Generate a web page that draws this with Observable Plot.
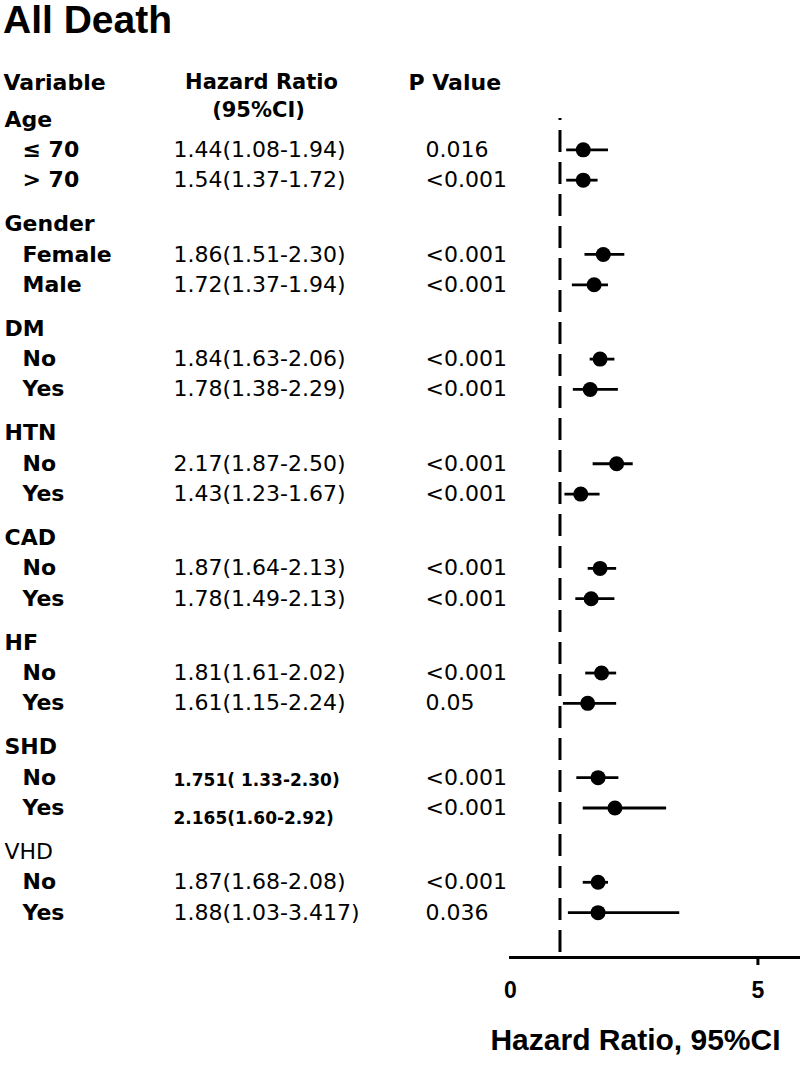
<!DOCTYPE html>
<html><head><meta charset="utf-8">
<script src="https://cdn.jsdelivr.net/npm/d3@7"></script>
<script src="https://cdn.jsdelivr.net/npm/@observablehq/plot@0.6"></script>
<style>
body{margin:0;background:#fff;}
#title{height:45px;font:bold 39px "Liberation Sans",Arial,sans-serif;line-height:39px;padding-left:3px;color:#000;}
#chart svg{overflow:visible;}
</style></head><body>
<div id="title">All Death</div>
<div id="chart"></div>
<script>
// ---- data ----
const groupLabels = ["Age","Gender","DM","HTN","CAD","HF","SHD","VHD"];
const subgroupLabels = [["≤ 70","> 70"],["Female","Male"],["No","Yes"],["No","Yes"],["No","Yes"],["No","Yes"],["No","Yes"],["No","Yes"]];
const hrText = ["1.44(1.08-1.94)","1.54(1.37-1.72)","1.86(1.51-2.30)","1.72(1.37-1.94)","1.84(1.63-2.06)","1.78(1.38-2.29)","2.17(1.87-2.50)","1.43(1.23-1.67)","1.87(1.64-2.13)","1.78(1.49-2.13)","1.81(1.61-2.02)","1.61(1.15-2.24)","1.751( 1.33-2.30)","2.165(1.60-2.92)","1.87(1.68-2.08)","1.88(1.03-3.417)"];
const pText = ["0.016","<0.001","<0.001","<0.001","<0.001","<0.001","<0.001","<0.001","<0.001","<0.001","<0.001","0.05","<0.001","<0.001","<0.001","0.036"];
// plotted estimates and CI bounds, as drawn in the figure
const hrPoint = [1.47,1.47,1.875,1.69,1.81,1.61,2.145,1.42,1.81,1.63,1.84,1.56,1.77,2.11,1.77,1.77];
const ciLow  = [1.135,1.135,1.505,1.25,1.61,1.27,1.67,1.10,1.57,1.32,1.52,1.07,1.34,1.47,1.47,1.17];
const ciHigh = [1.98,1.77,2.31,1.98,2.11,2.18,2.48,1.81,2.145,2.11,2.145,2.145,2.19,3.155,1.98,3.42];
const xTicks = [0,5];
const refValue = 1;
const xLabel = "Hazard Ratio, 95%CI";

// ---- layout (row units) ----
const GAP = 3.45;
const groupRows = groupLabels.map((g,i)=>({label:g, y:i*GAP}));
const rows = [];
groupLabels.forEach((g,i)=>subgroupLabels[i].forEach((s,j)=>{
  const k = rows.length;
  rows.push({group:g, label:s, y:i*GAP+j+1, hr:hrPoint[k], lo:ciLow[k], hi:ciHigh[k], hrText:hrText[k], p:pText[k]});
}));
const lastY = d3.max(rows, d=>d.y);
const ROW = 30.33, TOP = 74;

const F = "DejaVu Sans";
const L = "Liberation Sans";
const normalRows = rows.filter(d=>d.group!=="SHD");
const shdNo = rows.filter(d=>d.group==="SHD" && d.label==="No");
const shdYes = rows.filter(d=>d.group==="SHD" && d.label==="Yes");

const plot = Plot.plot({
  width: 800, height: 1023,
  marginLeft: 510, marginRight: 2, marginTop: 73, marginBottom: 111,
  x: {domain:[0,5.82], axis:null},
  y: {domain:[0,lastY], range:[TOP, TOP+lastY*ROW], axis:null},
  style: {background:"#fff", color:"#000"},
  marks: [
    Plot.ruleX([refValue], {stroke:"#000", strokeWidth:3, strokeDasharray:"22,10", strokeDashoffset:20}),
    Plot.frame({anchor:"bottom", stroke:"#000", strokeWidth:3}),
    Plot.axisX({ticks:[5], tickSize:8, tickFormat:()=>"", strokeWidth:3, label:null}),
    Plot.text(xTicks, {x:d=>d, frameAnchor:"bottom", dy:40, text:d=>String(d), fontSize:23, fontWeight:"bold", fontFamily:L}),
    Plot.text([xLabel], {frameAnchor:"bottom", dx:-19, dy:92, text:d=>d, fontSize:30, fontWeight:"bold", fontFamily:L}),
    Plot.ruleY(rows, {x1:"lo", x2:"hi", y:"y", stroke:"#000", strokeWidth:2.8}),
    Plot.dot(rows, {x:"hr", y:"y", r:7.5, fill:"#000", stroke:null}),
    // headers
    Plot.text(["Variable"], {frameAnchor:"top-left", dx:-507, dy:-44, text:d=>d, textAnchor:"start", fontSize:22, fontWeight:"bold", fontFamily:F}),
    Plot.text(["Hazard Ratio"], {frameAnchor:"top-left", dx:-249, dy:-44, text:d=>d, textAnchor:"middle", fontSize:21, fontWeight:"bold", fontFamily:F}),
    Plot.text(["(95%CI)"], {frameAnchor:"top-left", dx:-252, dy:-16, text:d=>d, textAnchor:"middle", fontSize:21, fontWeight:"bold", fontFamily:F}),
    Plot.text(["P Value"], {frameAnchor:"top-left", dx:-102, dy:-44, text:d=>d, textAnchor:"start", fontSize:22, fontWeight:"bold", fontFamily:F}),
    // group labels
    Plot.text(groupRows.filter(d=>d.label!=="VHD"), {y:"y", text:"label", frameAnchor:"left", dx:-506, textAnchor:"start", fontSize:22, fontWeight:"bold", fontFamily:F}),
    Plot.text(groupRows.filter(d=>d.label==="VHD"), {y:"y", text:"label", frameAnchor:"left", dx:-506, textAnchor:"start", fontSize:22, fontFamily:F}),
    // subgroup labels
    Plot.text(rows, {y:"y", text:"label", frameAnchor:"left", dx:-488, textAnchor:"start", fontSize:22, fontWeight:"bold", fontFamily:F}),
    // HR text
    Plot.text(normalRows, {y:"y", text:"hrText", frameAnchor:"left", dx:-337, textAnchor:"start", fontSize:22, fontFamily:F}),
    Plot.text(shdNo, {y:"y", text:"hrText", frameAnchor:"left", dx:-337, dy:3, textAnchor:"start", fontSize:17, fontWeight:"bold", fontFamily:F}),
    Plot.text(shdYes, {y:"y", text:"hrText", frameAnchor:"left", dx:-337, dy:11, textAnchor:"start", fontSize:17, fontWeight:"bold", fontFamily:F}),
    // P values
    Plot.text(rows, {y:"y", text:"p", frameAnchor:"left", dx:-85, textAnchor:"start", fontSize:22, fontFamily:F})
  ]
});
document.getElementById("chart").appendChild(plot);
</script>
</body></html>
